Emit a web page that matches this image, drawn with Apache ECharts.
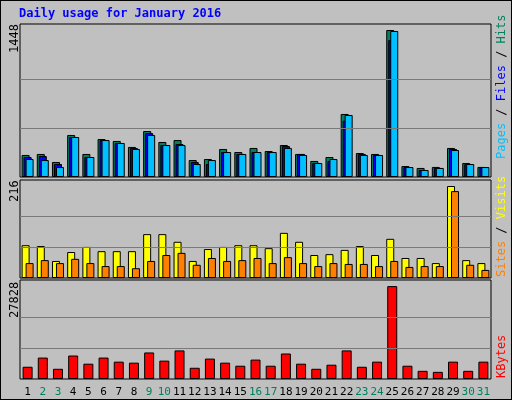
<!DOCTYPE html>
<html>
<head>
<meta charset="UTF-8">
<script src="https://cdn.jsdelivr.net/npm/echarts@6/dist/echarts.min.js"></script>
<style>
  body { margin:0; background:#c0c0c0; }
  #chart { width:512px; height:400px; box-sizing:border-box; border:1px solid #000; }
</style>
</head>
<body>
<div id="chart"></div>
<script>
var days = [];
for (var d = 1; d <= 31; d++) days.push(String(d));
var weekend = [2, 3, 9, 10, 16, 17, 23, 24, 30, 31];

var hits   = [217,227,148,414,227,374,355,296,453,345,364,167,177,276,246,286,256,315,227,158,197,621,236,227,1448,108,89,99,286,138,99];
var files  = [197,207,128,394,197,364,335,286,433,315,325,148,128,246,227,246,246,305,227,138,158,555,227,217,1349,98,69,89,276,128,98];
var pages  = [177,167,98,394,197,364,335,276,414,315,315,128,167,246,227,246,246,286,217,138,177,611,217,217,1438,98,69,89,266,128,98];
var sites  = [77,75,40,61,73,63,63,63,103,103,85,40,68,73,77,77,70,106,85,54,56,66,75,54,92,47,47,35,216,42,35];
var visits = [35,42,35,45,35,28,28,23,40,54,59,31,47,40,42,47,35,49,35,28,35,33,33,28,40,26,28,28,204,31,19];
var kbytes = [3670,6422,3058,7033,4587,6422,5199,4893,7951,5504,8563,3364,6116,4893,3975,5810,3975,7645,4587,3058,4281,8563,3670,5199,27828,3975,2446,2141,5199,2446,5199];

var maxHits = 1448, maxSites = 216, maxKb = 27828;
var mono = 'DejaVu Sans Mono';

var chart = echarts.init(document.getElementById('chart'));

function grid(top, h) { return { left: 19, right: 20, top: top, height: h, show: true, backgroundColor: '#c0c0c0', borderColor: '#000', borderWidth: 1 }; }
function xAx(i, showLabel) {
  return {
    type: 'category', gridIndex: i, data: days,
    axisLine: { show: false }, axisTick: { show: false },
    axisLabel: {
      show: showLabel, interval: 0, margin: 8, fontFamily: mono, fontSize: 11,
      formatter: function (v) { return weekend.indexOf(+v) >= 0 ? '{w|' + v + '}' : '{n|' + v + '}'; },
      rich: { w: { color: '#00805c', fontFamily: mono, fontSize: 11 }, n: { color: '#000', fontFamily: mono, fontSize: 11 } }
    }
  };
}
function yAx(i, max) {
  return { type: 'value', gridIndex: i, min: 0, max: max, show: false, splitLine: { show: false } };
}
function lines(m) {
  return { silent: true, symbol: 'none', label: { show: false },
    lineStyle: { color: '#7a7a7a', type: 'solid', width: 1.2 },
    data: [{ yAxis: m / 3 }, { yAxis: m * 2 / 3 }] };
}
function bar(name, data, x, color, w, gap, ml) {
  var s = { name: name, type: 'bar', xAxisIndex: x, yAxisIndex: x, data: data, barWidth: w, barGap: gap,
    itemStyle: { color: color, borderColor: '#000', borderWidth: 1 }, animation: false };
  if (ml) s.markLine = ml;
  return s;
}

var option = {
  backgroundColor: '#c0c0c0',
  animation: false,
  grid: [grid(23, 153), grid(179, 98), grid(279, 99)],
  xAxis: [xAx(0, false), xAx(1, false), xAx(2, true)],
  yAxis: [yAx(0, maxHits * 153 / 147), yAx(1, maxSites * 98 / 92), yAx(2, maxKb * 97 / 91)],
  series: [
    bar('Hits', hits, 0, '#00805c', 8, '-75%', lines(maxHits)),
    bar('Files', files, 0, '#0000ff', 8, '-75%'),
    bar('Pages', pages, 0, '#00c0ff', 8, '-75%'),
    bar('Sites', sites, 1, '#ffff00', 8, '-50%', lines(maxSites)),
    bar('Visits', visits, 1, '#ff8000', 8, '-50%'),
    bar('KBytes', kbytes, 2, '#ff0000', 10, '0%', lines(maxKb))
  ],
  graphic: [
    { type: 'text', left: 18, top: 7, style: { text: 'Daily usage for January 2016', fill: '#0000ff', font: 'bold 12px "DejaVu Sans Mono"' } },
    { type: 'text', x: 8, y: 52, rotation: Math.PI / 2, style: { text: '1448', fill: '#000', font: '12px "DejaVu Sans Mono"' } },
    { type: 'text', x: 8, y: 201, rotation: Math.PI / 2, style: { text: '216', fill: '#000', font: '12px "DejaVu Sans Mono"' } },
    { type: 'text', x: 8, y: 317, rotation: Math.PI / 2, style: { text: '27828', fill: '#000', font: '12px "DejaVu Sans Mono"' } },
    { type: 'text', x: 495, y: 158, rotation: Math.PI / 2, style: {
      text: '{p|Pages}{s| / }{f|Files}{s| / }{h|Hits}', font: '12px "DejaVu Sans Mono"',
      rich: { p: { fill: '#00c0ff' }, f: { fill: '#0000ff' }, h: { fill: '#00805c' }, s: { fill: '#000' } } } },
    { type: 'text', x: 495, y: 276, rotation: Math.PI / 2, style: {
      text: '{o|Sites}{s| / }{y|Visits}', font: '12px "DejaVu Sans Mono"',
      rich: { o: { fill: '#ff8000' }, y: { fill: '#ffff00' }, s: { fill: '#000' } } } },
    { type: 'text', x: 495, y: 377, rotation: Math.PI / 2, style: { text: 'KBytes', fill: '#ff0000', font: '12px "DejaVu Sans Mono"' } }
  ]
};
chart.setOption(option);
</script>
</body>
</html>
